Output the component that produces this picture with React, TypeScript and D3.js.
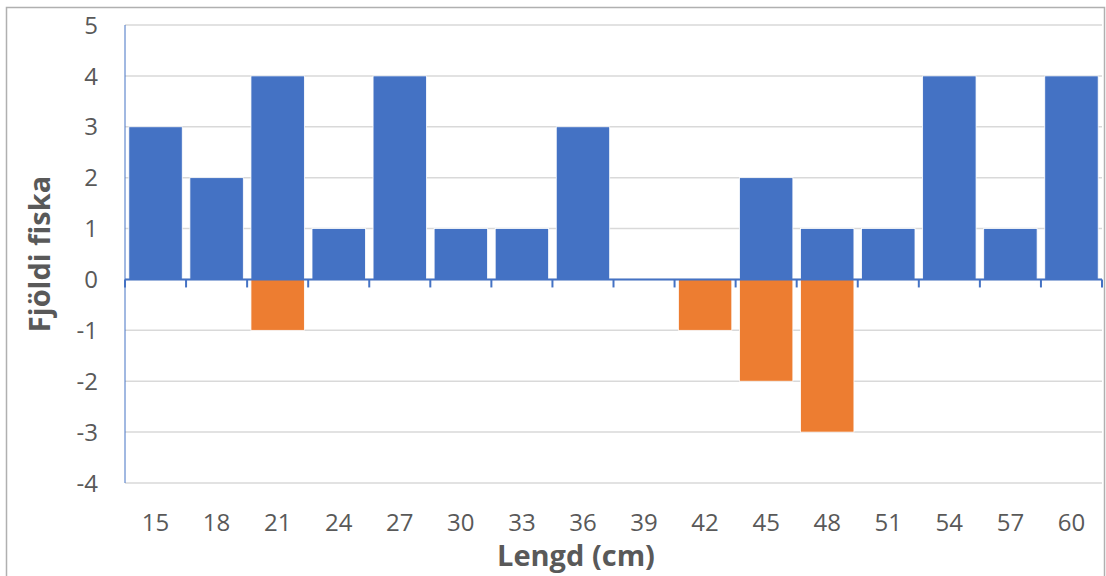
import React from "react";
import * as d3 from "d3";

const lengths = [15, 18, 21, 24, 27, 30, 33, 36, 39, 42, 45, 48, 51, 54, 57, 60];
const gains = [3, 2, 4, 1, 4, 1, 1, 3, 0, 0, 2, 1, 1, 4, 1, 4];
const losses = [0, 0, -1, 0, 0, 0, 0, 0, 0, -1, -2, -3, 0, 0, 0, 0];
const yTicks = [5, 4, 3, 2, 1, 0, -1, -2, -3, -4];

const W = 1106;
const H = 576;
const plot = { left: 125, right: 1102, top: 25, bottom: 483 };
const font = "'Open Sans', 'Noto Sans', sans-serif";

export default function App() {
  const x = d3
    .scaleBand<string>()
    .domain(lengths.map(String))
    .range([plot.left, plot.right])
    .paddingInner(0.125)
    .paddingOuter(0.0625);
  const bandStep = (plot.right - plot.left) / lengths.length;
  const y = d3.scaleLinear().domain([-4, 5]).range([plot.bottom, plot.top]);
  const y0 = y(0);

  const bars = (vals: number[], color: string) =>
    vals.map((v, i) => {
      const top = Math.min(y(v), y0);
      const h = Math.abs(y(v) - y0);
      return (
        <rect
          key={color + i}
          x={x(String(lengths[i]))}
          y={top}
          width={x.bandwidth()}
          height={h}
          fill={color}
          stroke="#ffffff"
          strokeWidth={0.8}
        />
      );
    });

  return (
    <svg
      width={W}
      height={H}
      style={{ position: "absolute", left: 0, top: 0, background: "#fff" }}
    >
      <rect x={6.5} y={7.5} width={1098} height={H} fill="#fff" stroke="#b0b0b0" strokeWidth={1.5} />
      {yTicks.map((t) => (
        <line
          key={"g" + t}
          x1={plot.left}
          x2={plot.right}
          y1={y(t)}
          y2={y(t)}
          stroke="#d9d9d9"
          strokeWidth={1.5}
        />
      ))}
      {bars(gains, "#4472C4")}
      {bars(losses, "#ED7D31")}
      <line x1={plot.left} x2={plot.left} y1={plot.top} y2={plot.bottom} stroke="#4472C4" strokeWidth={1} />
      <line x1={plot.left} x2={plot.right} y1={y0} y2={y0} stroke="#4472C4" strokeWidth={2} />
      {d3.range(lengths.length + 1).map((i) => (
        <line
          key={"t" + i}
          x1={plot.left + i * bandStep}
          x2={plot.left + i * bandStep}
          y1={y0}
          y2={y0 + 8}
          stroke="#4472C4"
          strokeWidth={2}
        />
      ))}
      {yTicks.map((t) => (
        <text
          key={"yl" + t}
          x={98}
          y={y(t)}
          dy="0.36em"
          textAnchor="end"
          fontFamily={font}
          fontSize={24}
          fill="#595959"
        >
          {t}
        </text>
      ))}
      {lengths.map((l) => (
        <text
          key={"xl" + l}
          x={(x(String(l)) as number) + x.bandwidth() / 2}
          y={522}
          dy="0.36em"
          textAnchor="middle"
          fontFamily={font}
          fontSize={24}
          fill="#595959"
        >
          {l}
        </text>
      ))}
      <text
        x={576}
        y={556}
        dy="0.36em"
        textAnchor="middle"
        fontFamily={font}
        fontSize={29}
        fontWeight="bold"
        fill="#595959"
      >
        Lengd (cm)
      </text>
      <text
        transform={`translate(40, ${(plot.top + plot.bottom) / 2}) rotate(-90)`}
        dy="0.36em"
        textAnchor="middle"
        fontFamily={font}
        fontSize={29}
        fontWeight="bold"
        fill="#595959"
      >
        Fjöldi fiska
      </text>
    </svg>
  );
}
